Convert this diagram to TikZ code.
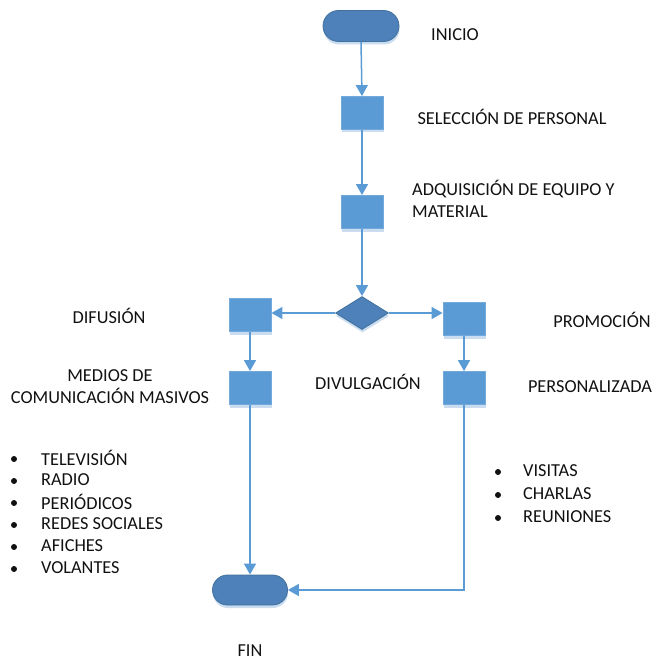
\documentclass[tikz,border=0pt]{standalone}
\usepackage{fontspec}
\setmainfont{Carlito}
\usetikzlibrary{arrows.meta,shapes.geometric,shapes.misc,shadows}
\definecolor{boxblue}{HTML}{5B9BD5}
\definecolor{darkblue}{HTML}{4E80B9}
\definecolor{edgeblue}{HTML}{41719C}
\definecolor{shadeblue}{HTML}{C9DCF0}
\definecolor{txt}{HTML}{111111}
\tikzset{
  shade/.style={drop shadow={shadow xshift=0.5pt,shadow yshift=-3pt,fill=shadeblue,opacity=1}},
  stepbox/.style={rectangle,draw=boxblue!85!white,line width=0.8pt,fill=boxblue,minimum width=42pt,minimum height=33pt,inner sep=0pt,shade},
  term/.style={rounded rectangle,draw=edgeblue,line width=0.8pt,fill=darkblue,minimum width=76pt,minimum height=31pt,inner sep=0pt,shade},
  decide/.style={diamond,draw=edgeblue,line width=0.8pt,fill=darkblue,minimum width=53pt,minimum height=33pt,inner sep=0pt,shade},
  flow/.style={draw=boxblue,line width=1.5pt,-{Triangle[length=11pt,width=12pt]}},
  lbl/.style={font=\fontsize{18.3}{22}\selectfont,text=txt,inner sep=0pt}
}
\begin{document}
\begin{tikzpicture}[x=1pt,y=-1pt]
\useasboundingbox (0,0) rectangle (653,660);
\node[term] (inicio) at (361,26) {};
\node[stepbox] (b1) at (362,113) {};
\node[stepbox] (b2) at (362,212) {};
\node[decide] (dv) at (362,313) {};
\node[stepbox] (l1) at (250,315) {};
\node[stepbox] (r1) at (464,319) {};
\node[stepbox] (l2) at (250,388) {};
\node[stepbox] (r2) at (464,388) {};
\node[term,minimum width=75pt,minimum height=30pt] (fin) at (250,590) {};

\draw[flow] (inicio.south) -- (b1.north);
\draw[flow] (b1.south) -- (b2.north);
\draw[flow] (b2.south) -- (dv.north);
\draw[flow] (dv.west) -- (dv.west -| l1.east);
\draw[flow] (dv.east) -- (dv.east -| r1.west);
\draw[flow] (l1.south) -- (l2.north);
\draw[flow] (r1.south) -- (r2.north);
\draw[flow] (l2.south) -- (fin.north);
\draw[flow] (r2.south) |- (fin.east);

\node[lbl] (t1) at (455,35) {INICIO};
\node[lbl] (t2) at (512,117) {SELECCIÓN DE PERSONAL};
\node[lbl,align=left,anchor=west] (t3) at (412,199) {ADQUISICIÓN DE EQUIPO Y\\MATERIAL};
\node[lbl] (t4) at (109,316) {DIFUSIÓN};
\node[lbl] (t5) at (602,320) {PROMOCIÓN};
\node[lbl,align=center] (t6) at (110,387) {MEDIOS DE\\COMUNICACIÓN MASIVOS};
\node[lbl] (t7) at (368,382) {DIVULGACIÓN};
\node[lbl] (t8) at (590,387) {PERSONALIZADA};
\node[lbl] (fintxt) at (250,651) {FIN};

\foreach \t [count=\i] in {TELEVISIÓN,RADIO,PERIÓDICOS,REDES SOCIALES,AFICHES,VOLANTES}{
  \node[lbl,anchor=west] (li\i) at (41,{458+22*(\i-1)}) {\t};
  \fill[txt] (14,{459+22*(\i-1)}) circle (3pt);
}
\foreach \t [count=\i] in {VISITAS,CHARLAS,REUNIONES}{
  \node[lbl,anchor=west] (ri\i) at (523,{471+23*(\i-1)}) {\t};
  \fill[txt] (498,{472+23*(\i-1)}) circle (3pt);
}
\end{tikzpicture}
\end{document}
